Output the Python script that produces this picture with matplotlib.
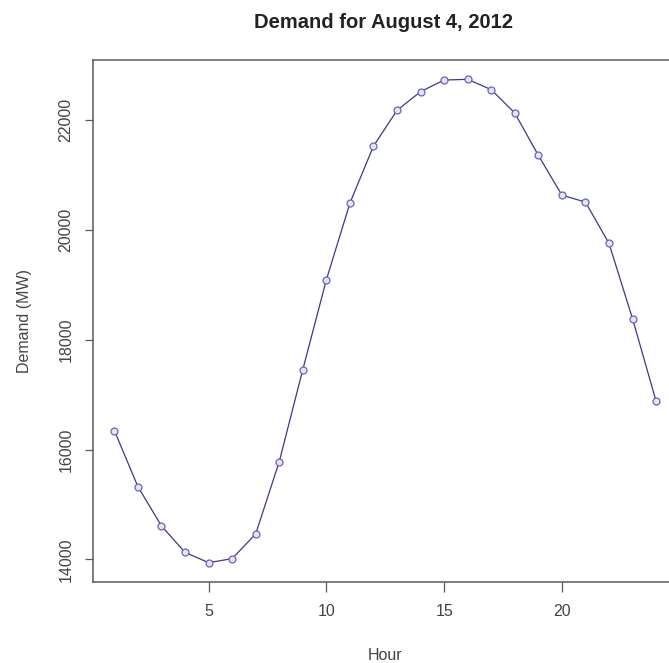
import matplotlib
matplotlib.use('Agg')
import matplotlib.pyplot as plt

# Hourly demand
HOURS = list(range(1, 25))
DEMAND_MW = [16346, 15325, 14609, 14128, 13940, 14013, 14463, 15781,
             17458, 19093, 20490, 21529, 22180, 22521, 22732, 22745,
             22557, 22131, 21359, 20636, 20508, 19755, 18382, 16880]

X_TICKS = [5, 10, 15, 20]
Y_TICKS = [14000, 16000, 18000, 20000, 22000]

TITLE = "Demand for August 4, 2012"
X_LABEL = "Hour"
Y_LABEL = "Demand (MW)"

LINE_COLOR = '#3a3a86'
MARKER_COLOR = '#6666b8'
AXIS_COLOR = '#5a5a5a'
TEXT_COLOR = '#444444'

plt.rcParams['font.family'] = ['Liberation Sans', 'DejaVu Sans']

W, H = 669, 663
fig = plt.figure(figsize=(W / 100, H / 100), dpi=100)

# axes box in pixels (right edge falls off the canvas like the reference)
left, right, top, bottom = 92.7, 677.8, 60, 582
ax = fig.add_axes([left / W, (H - bottom) / H, (right - left) / W, (bottom - top) / H])

ax.plot(HOURS, DEMAND_MW, color=LINE_COLOR, linewidth=0.9,
        marker='o', markersize=5, markerfacecolor='#e4e4f3',
        markeredgecolor=MARKER_COLOR, markeredgewidth=0.9)

# R-style 4% padding
ax.margins(x=0.04, y=0.04)

ax.set_xticks(X_TICKS)
ax.set_yticks(Y_TICKS)
ax.tick_params(axis='x', direction='out', length=7.5, width=0.9, color=AXIS_COLOR,
               labelsize=11.5, labelcolor=TEXT_COLOR, pad=8.5)
ax.tick_params(axis='y', direction='out', length=6, width=0.9, color=AXIS_COLOR,
               labelsize=11.5, labelcolor=TEXT_COLOR, pad=8)
for lab in ax.get_yticklabels():
    lab.set_rotation(90)
    lab.set_va('center')

for spine in ax.spines.values():
    spine.set_edgecolor(AXIS_COLOR)
    spine.set_linewidth(1.1)

ax.set_xlabel(X_LABEL, fontsize=11.5, color=TEXT_COLOR, va='center')
ax.xaxis.set_label_coords(0.5, (bottom - 656) / (bottom - top))
ax.set_ylabel(Y_LABEL, fontsize=11.5, color=TEXT_COLOR, va='center')
ax.yaxis.set_label_coords((24.5 - left) / (right - left), 0.5)

fig.text(384 / W, 1 - 22 / H, TITLE, ha='center', va='center',
         fontsize=14.5, fontweight='bold', color='#222222')

fig.savefig('out.png', dpi=100)
